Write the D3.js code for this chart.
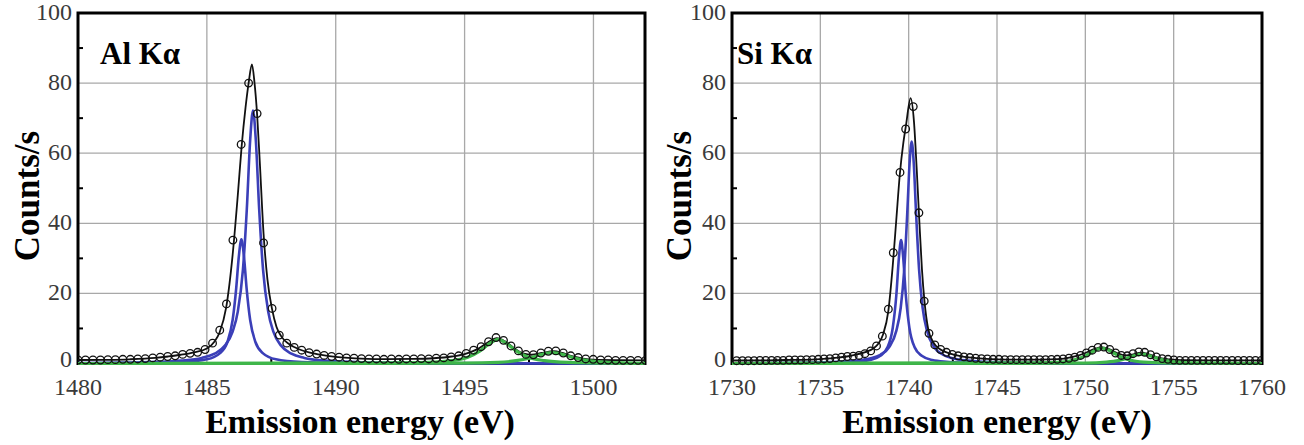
<!DOCTYPE html>
<html>
<head>
<meta charset="utf-8">
<script src="https://cdn.jsdelivr.net/npm/d3@7"></script>
<style>
  body { margin: 0; background: #fff; }
  svg text { font-family: "Liberation Serif", "DejaVu Serif", serif; }
</style>
</head>
<body>
<svg id="chart" width="1304" height="445"></svg>
<script>
// ---- data ----
var yTicks = [0, 20, 40, 60, 80, 100];
var yMinor = [10, 30, 50, 70, 90];

// Al K-alpha panel
var alTicks = [1480, 1485, 1490, 1495, 1500];
var alMinor = [1482.5, 1487.5, 1492.5, 1497.5];
var alCircles = [
  [1480.00,1.0],[1480.29,1.0],[1480.58,1.0],[1480.87,1.0],[1481.16,1.1],[1481.45,1.1],[1481.74,1.2],
  [1482.03,1.2],[1482.32,1.3],[1482.61,1.4],[1482.90,1.6],[1483.19,1.8],[1483.48,2.0],[1483.77,2.2],
  [1484.06,2.6],[1484.35,2.9],[1484.64,3.2],[1484.93,4.0],[1485.22,5.8],[1485.50,9.5],[1485.76,17.0],
  [1486.01,35.2],[1486.33,62.5],[1486.62,80.0],[1486.95,71.3],[1487.20,34.4],[1487.53,15.7],[1487.81,8.1],
  [1488.10,5.8],[1488.39,4.6],[1488.68,3.8],[1488.97,3.1],[1489.26,2.7],[1489.55,2.3],[1489.84,2.0],
  [1490.13,1.8],[1490.42,1.6],[1490.71,1.5],[1491.00,1.4],[1491.29,1.3],[1491.58,1.3],[1491.87,1.2],
  [1492.16,1.3],[1492.45,1.2],[1492.74,1.3],[1493.03,1.3],[1493.32,1.4],[1493.61,1.3],[1493.90,1.5],
  [1494.19,1.6],[1494.48,1.9],[1494.77,2.2],[1495.06,2.9],[1495.35,3.8],[1495.64,4.8],[1495.93,6.2],
  [1496.22,7.4],[1496.51,6.6],[1496.80,5.0],[1497.09,3.6],[1497.38,2.6],[1497.67,2.5],[1497.96,3.0],
  [1498.25,3.5],[1498.54,3.6],[1498.83,3.0],[1499.12,2.2],[1499.41,1.7],[1499.70,1.3],[1499.99,1.2],
  [1500.28,1.0],[1500.57,1.0],[1500.86,0.9],[1501.15,0.9],[1501.44,0.9],[1501.73,0.9],[1502.02,0.9]
];
var alFit = [
  [1480,1.0],[1481,1.05],[1482,1.2],[1483,1.6],[1483.5,2.0],[1484,2.5],[1484.5,3.2],[1485,4.3],
  [1485.3,6.3],[1485.5,9.0],[1485.75,16],[1486,31],[1486.2,48],[1486.35,62],[1486.5,73],[1486.62,80],
  [1486.75,85.3],[1486.85,80],[1486.95,71],[1487.05,58],[1487.2,37],[1487.35,24],[1487.53,15.5],
  [1487.7,10.5],[1487.9,7.6],[1488.2,5.5],[1488.6,4.0],[1489,3.1],[1489.5,2.4],[1490,1.9],[1490.5,1.6],
  [1491,1.4],[1492,1.25],[1493,1.3],[1493.8,1.5],[1494.5,2.0],[1495,2.7],[1495.5,4.1],[1495.9,6.0],
  [1496.25,7.2],[1496.55,6.4],[1496.9,4.5],[1497.3,2.8],[1497.6,2.5],[1498,3.0],[1498.45,3.5],
  [1498.8,3.0],[1499.2,2.0],[1499.6,1.4],[1500,1.1],[1501,0.95],[1502,0.9]
];
var alBlueMain = [
  [1480,0.14],[1482,0.28],[1483,0.45],[1484,0.83],[1484.8,1.6],[1485.3,2.8],[1485.7,5.1],[1486.0,9.1],
  [1486.2,14.8],[1486.4,26.8],[1486.55,44],[1486.68,63.7],[1486.79,72.2],[1486.9,63.7],[1487.03,44],
  [1487.18,26.8],[1487.38,14.8],[1487.58,9.1],[1487.88,5.1],[1488.28,2.8],[1488.78,1.6],[1489.6,0.81],
  [1491,0.36],[1494,0.12],[1502,0.03]
];
var alBlueSide = [
  [1480,0.06],[1483,0.2],[1484,0.4],[1485,1.2],[1485.5,2.9],[1485.8,6.2],[1486.0,12.4],[1486.14,21.6],
  [1486.24,30.5],[1486.34,35.4],[1486.44,30.5],[1486.54,21.6],[1486.68,12.4],[1486.88,6.2],[1487.18,2.9],
  [1487.68,1.2],[1488.68,0.4],[1490,0.16],[1494,0.03],[1502,0.01]
];
var alGreenA = [
  [1480,0],[1492,0.1],[1493.6,0.3],[1494.5,0.8],[1495.1,1.7],[1495.6,3.6],[1495.95,5.6],[1496.3,6.9],
  [1496.65,5.6],[1497.0,3.6],[1497.5,1.7],[1498.1,0.8],[1499.0,0.3],[1500.5,0.1],[1502,0]
];
var alGreenB = [
  [1480,0],[1495,0.1],[1496.3,0.3],[1497.0,0.8],[1497.5,1.5],[1497.9,2.4],[1498.4,3.1],[1498.9,2.4],
  [1499.3,1.5],[1499.8,0.8],[1500.5,0.3],[1501.5,0.1],[1502,0.05]
];

// Si K-alpha panel
var siTicks = [1730, 1735, 1740, 1745, 1750, 1755, 1760];
var siMinor = [1732.5, 1737.5, 1742.5, 1747.5, 1752.5, 1757.5];
var siCircles = [
  [1730.26,0.8],[1730.59,0.8],[1730.92,0.8],[1731.25,0.8],[1731.58,0.85],[1731.91,0.85],[1732.24,0.9],
  [1732.57,0.9],[1732.90,0.9],[1733.23,1.0],[1733.56,1.0],[1733.89,1.0],[1734.22,1.1],[1734.55,1.1],
  [1734.88,1.2],[1735.21,1.3],[1735.54,1.4],[1735.87,1.6],[1736.20,1.8],[1736.53,2.0],[1736.86,2.1],
  [1737.19,2.3],[1737.52,2.8],[1737.85,3.6],[1738.18,5.0],[1738.51,7.8],[1738.85,15.5],[1739.13,31.6],
  [1739.51,54.5],[1739.83,66.9],[1740.26,73.3],[1740.58,43.0],[1740.88,17.8],[1741.15,8.6],[1741.48,5.3],
  [1741.81,4.0],[1742.14,3.2],[1742.47,2.6],[1742.80,2.2],[1743.13,1.9],[1743.46,1.7],[1743.79,1.5],
  [1744.12,1.4],[1744.45,1.3],[1744.78,1.2],[1745.11,1.2],[1745.44,1.1],[1745.77,1.1],[1746.10,1.1],
  [1746.43,1.1],[1746.76,1.1],[1747.09,1.1],[1747.42,1.1],[1747.75,1.1],[1748.08,1.15],[1748.41,1.2],
  [1748.74,1.3],[1749.07,1.5],[1749.40,1.8],[1749.73,2.3],[1750.06,3.0],[1750.39,3.8],[1750.72,4.6],
  [1751.05,4.7],[1751.38,4.0],[1751.71,3.0],[1752.04,2.3],[1752.37,2.2],[1752.70,2.8],[1753.03,3.3],
  [1753.36,3.2],[1753.69,2.5],[1754.02,1.9],[1754.35,1.4],[1754.68,1.2],[1755.01,1.0],[1755.34,0.9],
  [1755.67,0.9],[1756.00,0.9],[1756.33,0.9],[1756.66,0.9],[1756.99,0.9],[1757.32,0.9],[1757.65,0.9],
  [1757.98,0.9],[1758.31,0.9],[1758.64,0.85],[1758.97,0.85],[1759.30,0.85],[1759.63,0.85],[1759.96,0.85]
];
var siFit = [
  [1730,0.85],[1732,0.9],[1733,1.0],[1734,1.05],[1735,1.25],[1736,1.65],[1736.5,2.0],[1737,2.5],
  [1737.5,3.2],[1738,4.3],[1738.3,5.8],[1738.55,8.3],[1738.85,15],[1739.1,28],[1739.3,41],[1739.5,54],
  [1739.7,63],[1739.85,68],[1740.11,75.7],[1740.3,69],[1740.45,56],[1740.6,41],[1740.75,27],[1740.9,17.5],
  [1741.1,10],[1741.4,6.0],[1741.8,4.0],[1742.3,2.9],[1743,2.0],[1744,1.45],[1745,1.2],[1746,1.1],
  [1747,1.1],[1748,1.15],[1748.8,1.4],[1749.4,2.0],[1750,3.0],[1750.5,4.1],[1750.9,4.6],[1751.3,4.2],
  [1751.8,3.0],[1752.3,2.3],[1752.7,2.6],[1753.15,3.1],[1753.6,2.6],[1754.1,1.7],[1754.7,1.2],
  [1755.5,0.95],[1757,0.9],[1760,0.85]
];
var siBlueMain = [
  [1730,0.08],[1734,0.21],[1736,0.47],[1737,0.81],[1737.8,1.43],[1738.4,2.5],[1738.9,4.7],[1739.3,9.3],
  [1739.55,15.9],[1739.75,26.8],[1739.93,43.9],[1740.05,57],[1740.17,63.3],[1740.29,57],[1740.41,43.9],
  [1740.59,26.8],[1740.79,15.9],[1741.04,9.3],[1741.44,4.7],[1741.94,2.5],[1742.54,1.43],[1743.34,0.81],
  [1744.34,0.47],[1746.34,0.21],[1750,0.085],[1760,0.02]
];
var siBlueSide = [
  [1730,0.03],[1734,0.1],[1736,0.25],[1737,0.47],[1737.8,0.98],[1738.4,2.2],[1738.8,4.6],[1739.1,10.2],
  [1739.3,19.4],[1739.45,30.3],[1739.57,35.2],[1739.69,30.3],[1739.84,19.4],[1740.04,10.2],[1740.34,4.6],
  [1740.74,2.2],[1741.34,0.98],[1742.14,0.47],[1743.14,0.25],[1745,0.11],[1750,0.03],[1760,0.01]
];
var siGreenA = [
  [1730,0],[1747,0.1],[1748.3,0.3],[1749.2,0.8],[1749.8,1.7],[1750.3,3.0],[1750.65,4.0],[1750.95,4.4],
  [1751.25,4.0],[1751.6,3.0],[1752.1,1.7],[1752.7,0.8],[1753.6,0.3],[1755,0.1],[1760,0]
];
var siGreenB = [
  [1730,0],[1750,0.1],[1751.2,0.4],[1751.9,0.9],[1752.4,1.6],[1752.8,2.3],[1753.2,2.7],[1753.6,2.3],
  [1754.0,1.6],[1754.5,0.9],[1755.2,0.4],[1756.5,0.1],[1760,0]
];

// ---- drawing ----
var svg = d3.select("#chart");
var plotTop = 13, plotBottom = 363.5;

function drawPanel(p) {
  var x = d3.scaleLinear().domain(p.domain).range([p.left, p.right]);
  var y = d3.scaleLinear().domain([0, 100]).range([plotBottom, plotTop]);
  var g = svg.append("g");

  // clip a little below the axis so the thick baseline curves stay visible
  g.append("clipPath").attr("id", p.id + "-clip")
    .append("rect")
    .attr("x", p.left).attr("y", plotTop)
    .attr("width", p.right - p.left).attr("height", plotBottom - plotTop + 2.5);

  // grid
  g.append("g").selectAll("line").data(yTicks.slice(1, -1)).enter().append("line")
    .attr("x1", p.left).attr("x2", p.right)
    .attr("y1", d => y(d)).attr("y2", d => y(d))
    .attr("stroke", "#a8a8a8").attr("stroke-width", 1.3);
  g.append("g").selectAll("line").data(p.ticks.filter(d => d > p.domain[0] && d < p.domain[1])).enter().append("line")
    .attr("y1", plotTop).attr("y2", plotBottom)
    .attr("x1", d => x(d)).attr("x2", d => x(d))
    .attr("stroke", "#a8a8a8").attr("stroke-width", 1.3);

  // frame (bottom edge is hidden under the green baseline)
  g.append("path")
    .attr("d", "M" + p.left + "," + plotBottom + "V" + plotTop + "H" + p.right + "V" + plotBottom + "Z")
    .attr("fill", "none").attr("stroke", "#000").attr("stroke-width", 3);

  // inward minor ticks
  g.append("g").selectAll("line").data(yMinor).enter().append("line")
    .attr("x1", p.left).attr("x2", p.left + 5)
    .attr("y1", d => y(d)).attr("y2", d => y(d))
    .attr("stroke", "#000").attr("stroke-width", 2);
  g.append("g").selectAll("line").data(p.minor).enter().append("line")
    .attr("x1", d => x(d)).attr("x2", d => x(d))
    .attr("y1", plotBottom).attr("y2", plotBottom - 5)
    .attr("stroke", "#000").attr("stroke-width", 2);

  var plot = g.append("g").attr("clip-path", "url(#" + p.id + "-clip)");
  var line = d3.line().x(d => x(d[0])).y(d => y(d[1])).curve(d3.curveMonotoneX);

  [p.blueSide, p.blueMain].forEach(function(s) {
    plot.append("path").datum(s).attr("d", line)
      .attr("fill", "none").attr("stroke", "#3b3fb8").attr("stroke-width", 2.6);
  });
  plot.append("path").datum(p.fit).attr("d", line)
    .attr("fill", "none").attr("stroke", "#111").attr("stroke-width", 1.8);
  [p.greenA, p.greenB].forEach(function(s) {
    plot.append("path").datum(s).attr("d", line)
      .attr("fill", "none").attr("stroke", "#3fb64a").attr("stroke-width", 3.2);
  });
  plot.append("g").selectAll("circle").data(p.circles).enter().append("circle")
    .attr("cx", d => x(d[0])).attr("cy", d => y(d[1])).attr("r", 3.8)
    .attr("fill", "none").attr("stroke", "#111").attr("stroke-width", 1.3);

  // tick labels
  g.append("g").selectAll("text").data(yTicks).enter().append("text")
    .attr("x", p.left - 6).attr("y", d => y(d) + (d === 0 ? 3 : 7))
    .attr("text-anchor", "end").attr("font-size", 24).attr("fill", "#3a3a3a")
    .text(d => d);
  g.append("g").selectAll("text").data(p.ticks).enter().append("text")
    .attr("x", d => x(d)).attr("y", plotBottom + 31)
    .attr("text-anchor", "middle").attr("font-size", 24).attr("fill", "#3a3a3a")
    .text(d => d);

  // titles
  g.append("text")
    .attr("transform", "translate(" + p.ytitleX + ",196) rotate(-90)")
    .attr("text-anchor", "middle").attr("font-size", 35).attr("font-weight", "bold")
    .text("Counts/s");
  g.append("text")
    .attr("x", p.xtitleX).attr("y", 433)
    .attr("text-anchor", "middle").attr("font-size", 34).attr("font-weight", "bold")
    .text("Emission energy (eV)");
  g.append("text")
    .attr("x", p.labelX).attr("y", 64)
    .attr("font-size", 31).attr("font-weight", "bold")
    .text(p.label);
}

drawPanel({
  id: "al", domain: [1480, 1502], left: 78, right: 645,
  ticks: alTicks, minor: alMinor, circles: alCircles, fit: alFit,
  blueMain: alBlueMain, blueSide: alBlueSide, greenA: alGreenA, greenB: alGreenB,
  label: "Al Kα", labelX: 100, ytitleX: 39, xtitleX: 360
});
drawPanel({
  id: "si", domain: [1730, 1760], left: 732, right: 1262,
  ticks: siTicks, minor: siMinor, circles: siCircles, fit: siFit,
  blueMain: siBlueMain, blueSide: siBlueSide, greenA: siGreenA, greenB: siGreenB,
  label: "Si Kα", labelX: 737, ytitleX: 691, xtitleX: 997
});
</script>
</body>
</html>
